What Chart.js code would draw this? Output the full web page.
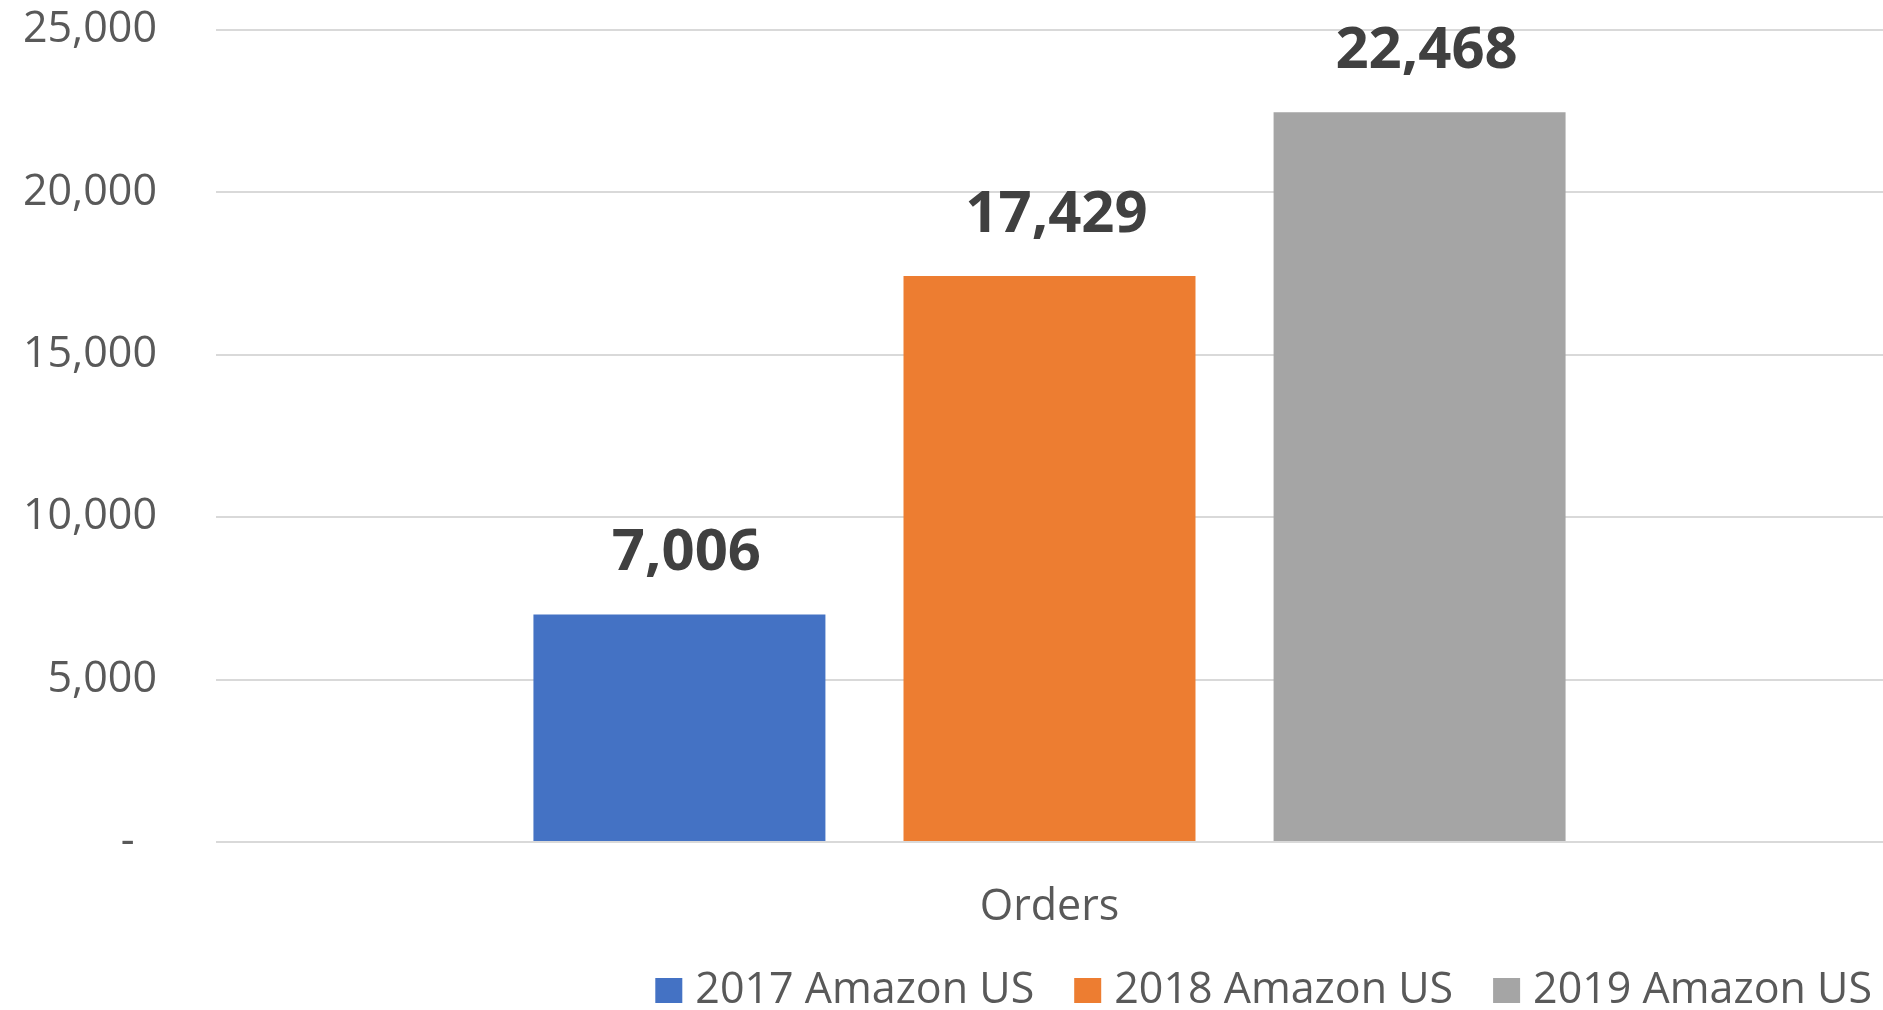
<!DOCTYPE html>
<html>
<head>
<meta charset="utf-8">
<script src="https://cdn.jsdelivr.net/npm/chart.js@4/dist/chart.umd.min.js"></script>
<style>
  html, body { margin: 0; padding: 0; background: #ffffff; }
  #wrap { width: 1883px; height: 1010px; }
</style>
</head>
<body>
<div id="wrap"><canvas id="c" width="1883" height="1010"></canvas></div>
<script>
const categories = ['Orders'];
const seriesNames = ['2017 Amazon US', '2018 Amazon US', '2019 Amazon US'];
const values2017 = [7006];
const values2018 = [17429];
const values2019 = [22468];
const seriesColors = ['#4472C4', '#ED7D31', '#A5A5A5'];
const yTicks = [0, 5000, 10000, 15000, 20000, 25000];

const FONT = "'Open Sans', 'DejaVu Sans', sans-serif";
const fmt = v => v.toLocaleString('en-US');

const valueLabels = {
  id: 'valueLabels',
  afterDatasetsDraw(chart) {
    const ctx = chart.ctx;
    ctx.save();
    ctx.font = "bold 58px " + FONT;
    ctx.fillStyle = '#404040';
    ctx.textAlign = 'center';
    ctx.textBaseline = 'alphabetic';
    chart.data.datasets.forEach((ds, i) => {
      const meta = chart.getDatasetMeta(i);
      meta.data.forEach((el, j) => {
        ctx.fillText(fmt(ds.data[j]), el.x + 7, el.y - 44);
      });
    });
    ctx.restore();
  }
};

const customLegend = {
  id: 'customLegend',
  afterDraw(chart) {
    const ctx = chart.ctx;
    ctx.save();
    ctx.font = "43px " + FONT;
    const boxW = 27, boxH = 25, gapText = 13, gapItem = 40;
    const items = chart.data.datasets.map(ds => ({
      text: ds.label, color: ds.backgroundColor, w: ctx.measureText(ds.label).width
    }));
    let total = 0;
    items.forEach((it, i) => { total += boxW + gapText + it.w + (i ? gapItem : 0); });
    let x = chart.width - 11 - total;
    const baseline = 1003;
    items.forEach(it => {
      ctx.fillStyle = it.color;
      ctx.fillRect(x, baseline - boxH, boxW, boxH);
      ctx.fillStyle = '#595959';
      ctx.textAlign = 'left';
      ctx.textBaseline = 'alphabetic';
      ctx.fillText(it.text, x + boxW + gapText, baseline);
      x += boxW + gapText + it.w + gapItem;
    });
    ctx.restore();
  }
};

const datasets = [values2017, values2018, values2019].map((vals, i) => ({
  label: seriesNames[i],
  data: vals,
  backgroundColor: seriesColors[i],
  borderWidth: 0,
  categoryPercentage: 0.666,
  barPercentage: 0.789
}));

new Chart(document.getElementById('c'), {
  type: 'bar',
  data: { labels: categories, datasets },
  plugins: [valueLabels, customLegend],
  options: {
    responsive: false,
    animation: false,
    devicePixelRatio: 1,
    layout: { padding: { top: 30, right: 0, bottom: 68, left: 0 } },
    plugins: {
      legend: { display: false },
      tooltip: { enabled: false },
      title: { display: false }
    },
    scales: {
      x: {
        grid: { display: false },
        border: { display: false },
        ticks: { color: '#595959', font: { family: FONT, size: 43 }, padding: 32 },
        afterFit(scale) { scale.height = 100; scale.paddingLeft = 0; scale.paddingRight = 0; }
      },
      y: {
        min: 0,
        max: 25000,
        afterBuildTicks(scale) { scale.ticks = yTicks.map(v => ({ value: v })); },
        grid: { color: '#D9D9D9', lineWidth: 2, drawTicks: false },
        border: { display: false },
        ticks: {
          color: '#595959',
          font: { family: FONT, size: 43 },
          padding: 59,
          callback: v => v === 0 ? '-\u00a0\u00a0' : fmt(v)
        },
        afterFit(scale) { scale.width = 216; scale.paddingTop = 0; scale.paddingBottom = 0; }
      }
    }
  }
});
</script>
</body>
</html>
